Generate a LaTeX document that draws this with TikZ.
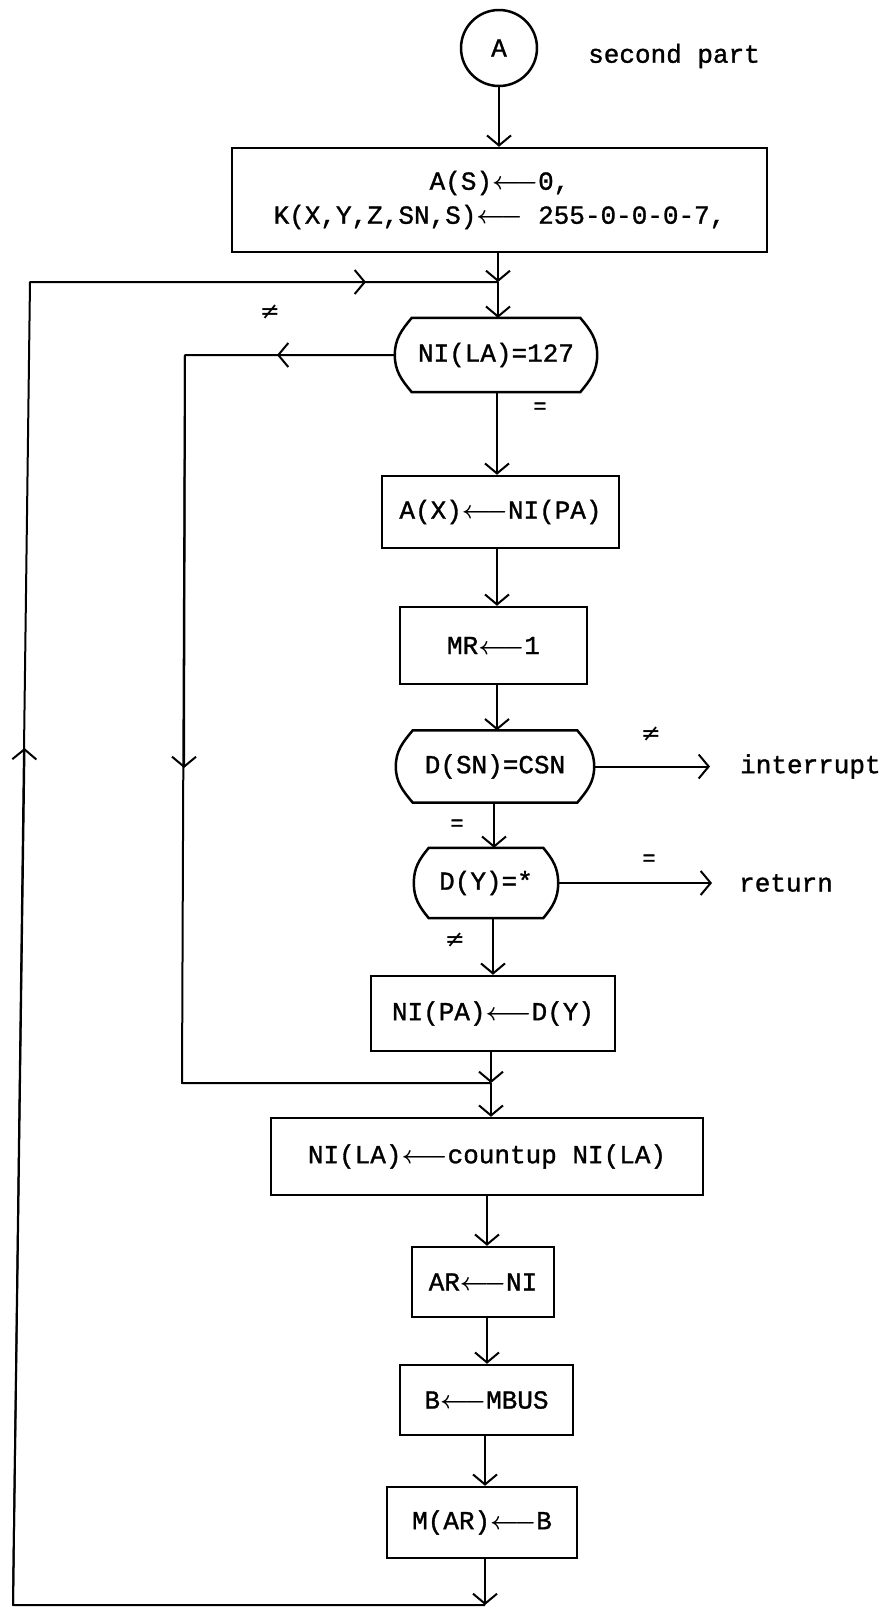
\documentclass[tikz,border=0pt]{standalone}
\usepackage{fontspec}
\setmainfont{Liberation Mono}[FakeBold=1.2]
\newfontfamily\symfont{DejaVu Sans}
\usetikzlibrary{arrows.meta,calc}
\tikzset{
  box/.style={draw, line width=2.5pt, rectangle, inner sep=0pt, align=center},
  dec/.style={rectangle, inner sep=0pt, align=center},
  ln/.style={line width=2pt},
  arr/.style={ln, -{Straight Barb[length=10pt,width=24pt]}},
  lbl/.style={inner sep=0pt},
  sym/.style={inner sep=0pt, font=\symfont\fontsize{24}{24}\selectfont},
  symeq/.style={inner sep=0pt, font=\fontsize{22}{22}\selectfont},
}
\newcommand{\la}{\mbox{\boldmath$\longleftarrow$}}
\newcommand{\decshape}[2]{\draw[line width=2.5pt] ($(#1.north west)+(#2,0)$) -- ($(#1.north east)+(-#2,0)$) to[out=-50,in=90] (#1.east) to[out=-90,in=50] ($(#1.south east)+(-#2,0)$) -- ($(#1.south west)+(#2,0)$) to[out=130,in=-90] (#1.west) to[out=90,in=-130] cycle;}
\begin{document}
\begin{tikzpicture}[x=1pt,y=1pt,font=\fontsize{26}{34}\selectfont]
\useasboundingbox (0,0) rectangle (885,-1610);
\fill[white] (0,0) rectangle (885,-1610);
% nodes
\node[circle, draw, line width=2.5pt, minimum size=76pt, inner sep=0pt] (A) at (499,-48) {A};
\node[lbl, anchor=west] (sp) at (588,-56) {second part};
\node[box, minimum width=535pt, minimum height=104pt] (b1) at (499.5,-200) {A(S)\la0,\\K(X,Y,Z,SN,S)\la{} 255-0-0-0-7,};
\node[dec, minimum width=202pt, minimum height=74pt] (d1) at (496,-355) {NI(LA)=127};
\decshape{d1}{17}
\node[box, minimum width=237pt, minimum height=72pt] (ax) at (500.5,-512) {A(X)\la NI(PA)};
\node[box, minimum width=187pt, minimum height=77pt] (mr) at (493.5,-645.5) {MR\la1};
\node[dec, minimum width=198pt, minimum height=72pt] (dsn) at (495,-766.5) {D(SN)=CSN};
\decshape{dsn}{17}
\node[dec, minimum width=144pt, minimum height=70pt] (dy) at (486,-883) {D(Y)=*};
\decshape{dy}{15}
\node[box, minimum width=244pt, minimum height=75pt] (nipa) at (493,-1013.5) {NI(PA)\la D(Y)};
\node[box, minimum width=432pt, minimum height=77pt] (nila) at (487,-1156.5) {NI(LA)\la countup NI(LA)};
\node[box, minimum width=142pt, minimum height=70pt] (ar) at (483,-1282) {AR\la NI};
\node[box, minimum width=173pt, minimum height=70pt] (bb) at (486.5,-1400) {B\la MBUS};
\node[box, minimum width=190pt, minimum height=71pt] (mar) at (482,-1522.5) {M(AR)\la B};
\node[lbl, anchor=west] (int) at (740,-766.5) {interrupt};
\node[lbl, anchor=west] (ret) at (739,-883) {return};
% condition labels
\node[sym] (n1) at (270,-312) {≠};
\node[symeq] (e1) at (540,-408) {=};
\node[sym] (n2) at (651,-734) {≠};
\node[symeq] (e2) at (457,-825) {=};
\node[symeq] (e3) at (649,-860) {=};
\node[sym] (n3) at (455,-940) {≠};
% coordinates
\coordinate (J1) at (498,-282);
\coordinate (J2) at (491,-1083);
\coordinate (Bt) at (485,-1605);
\coordinate (LB) at (13,-1605);
\coordinate (LM) at (24.5,-748);
\coordinate (LT) at (30,-282);
\coordinate (LA) at (366,-282);
\coordinate (IA) at (277,-355);
\coordinate (IT) at (185,-355);
\coordinate (IM) at (184,-768);
\coordinate (IB) at (182,-1083);
\coordinate (c2) at (497,0);
\coordinate (c3) at (494,0);
\coordinate (c4) at (493,0);
\coordinate (c6) at (487,0);
\coordinate (c7) at (485,0);
% main column
\draw[arr] (A.south) -- (A.south |- b1.north);
\draw[arr] (b1.south -| J1) -- (J1);
\draw[arr] (J1) -- (J1 |- d1.north);
\draw[arr] (d1.south -| c2) -- (c2 |- ax.north);
\draw[arr] (ax.south -| c2) -- (c2 |- mr.north);
\draw[arr] (mr.south -| c2) -- (c2 |- dsn.north);
\draw[arr] (dsn.south -| c3) -- (c3 |- dy.north);
\draw[arr] (dy.south -| c4) -- (c4 |- nipa.north);
\draw[arr] (nipa.south -| J2) -- (J2);
\draw[arr] (J2) -- (J2 |- nila.north);
\draw[arr] (nila.south -| c6) -- (c6 |- ar.north);
\draw[arr] (ar.south -| c6) -- (c6 |- bb.north);
\draw[arr] (bb.south -| c7) -- (c7 |- mar.north);
\draw[arr] (mar.south -| Bt) -- (Bt);
% outer loop
\draw[ln, line join=round] (Bt) -- (LB) -- (LT) -- (J1);
\draw[arr] (LB) -- (LM);
\draw[arr] (LT) -- (LA);
% inner loop
\draw[ln, line join=round] (d1.west) -- (IT) -- (IB) -- (J2);
\draw[arr] (d1.west) -- (IA);
\draw[arr] (IT) -- (IM);
% exits
\draw[arr, shorten >=30pt] (dsn.east) -- (int.west);
\draw[arr, shorten >=27pt] (dy.east) -- (ret.west);
\end{tikzpicture}
\end{document}
